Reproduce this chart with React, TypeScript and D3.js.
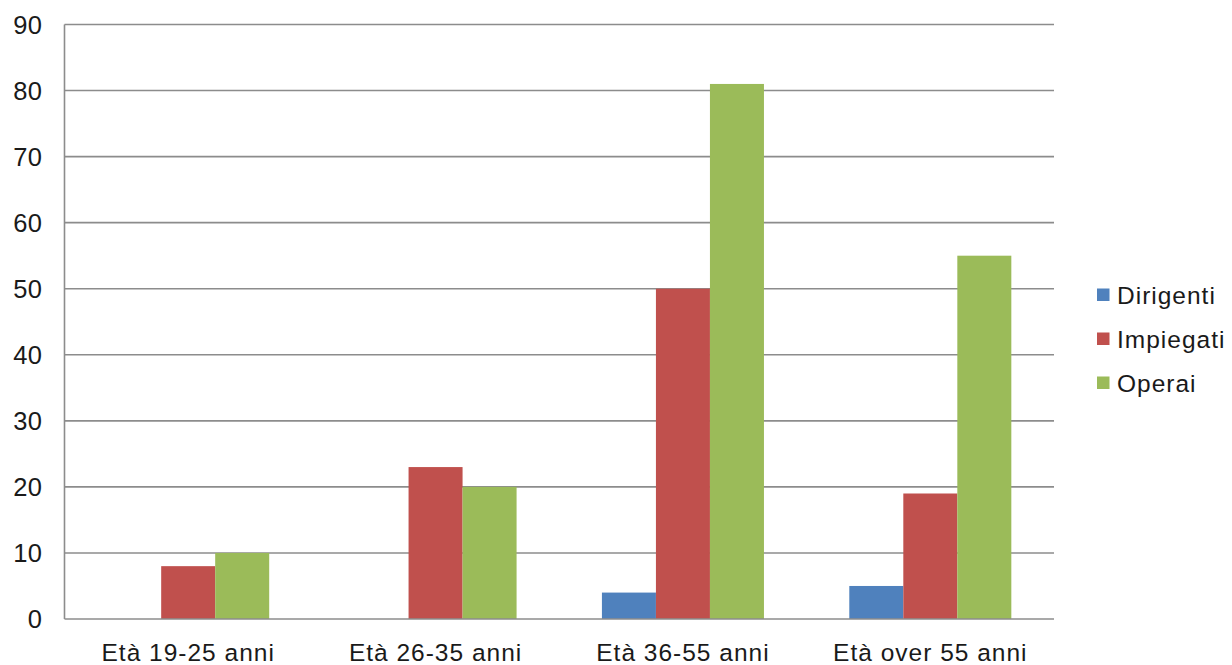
import React from "react";
import * as d3 from "d3";

const categories = ["Età 19-25 anni", "Età 26-35 anni", "Età 36-55 anni", "Età over 55 anni"];
const seriesNames = ["Dirigenti", "Impiegati", "Operai"];
const dirigenti = [0, 0, 4, 5];
const impiegati = [8, 23, 50, 19];
const operai = [10, 20, 81, 55];
const yTicks = [0, 10, 20, 30, 40, 50, 60, 70, 80, 90];
const colors = ["#4F81BD", "#C0504D", "#9BBB59"];

const W = 1232;
const H = 665;
const plot = { left: 64.5, right: 1054, top: 24.5, bottom: 619 };
const font = "'Liberation Sans', Arial, sans-serif";

export default function App() {
  const seriesValues = [dirigenti, impiegati, operai];
  const x0 = d3
    .scaleBand<string>()
    .domain(categories)
    .range([plot.left, plot.right])
    .paddingInner(0.345)
    .paddingOuter(0.1725);
  const x1 = d3.scaleBand<string>().domain(seriesNames).range([0, x0.bandwidth()]).padding(0);
  const y = d3.scaleLinear().domain([0, 90]).range([plot.bottom, plot.top]);

  return (
    <svg
      width={W}
      height={H}
      viewBox={`0 0 ${W} ${H}`}
      style={{ position: "absolute", left: 0, top: 0, background: "#fff" }}
    >
      {yTicks.map((t) => (
        <g key={t}>
          {t > 0 && (
            <line x1={plot.left} x2={plot.right} y1={y(t)} y2={y(t)} stroke="#8c8c8c" strokeWidth={1.6} />
          )}
          <text
            x={42.5}
            y={y(t)}
            textAnchor="end"
            dominantBaseline="central"
            fontFamily={font}
            fontSize={25.5}
            letterSpacing={0.5}
            fill="#1a1a1a"
          >
            {t}
          </text>
        </g>
      ))}
      {categories.map((c, ci) => (
        <g key={c} transform={`translate(${x0(c)},0)`}>
          {seriesNames.map((s, si) => {
            const v = seriesValues[si][ci];
            if (!v) return null;
            return (
              <rect
                key={s}
                x={x1(s)}
                y={y(v)}
                width={x1.bandwidth()}
                height={y(0) - y(v)}
                fill={colors[si]}
              />
            );
          })}
        </g>
      ))}
      <line x1={plot.left} x2={plot.left} y1={plot.top} y2={plot.bottom} stroke="#8c8c8c" strokeWidth={1.6} />
      <line x1={plot.left} x2={plot.right} y1={plot.bottom} y2={plot.bottom} stroke="#8c8c8c" strokeWidth={1.6} />
      {categories.map((c) => (
        <text
          key={c}
          x={(x0(c) as number) + x0.bandwidth() / 2}
          y={652}
          textAnchor="middle"
          dominantBaseline="central"
          fontFamily={font}
          fontSize={24.5}
          letterSpacing={1}
          fill="#1a1a1a"
        >
          {c}
        </text>
      ))}
      {seriesNames.map((s, si) => (
        <g key={s} transform={`translate(1097,${295 + si * 44})`}>
          <rect x={0} y={-6.5} width={12.5} height={12.5} fill={colors[si]} />
          <text
            x={20}
            y={0}
            dominantBaseline="central"
            fontFamily={font}
            fontSize={24.5}
            letterSpacing={1}
            fill="#1a1a1a"
          >
            {s}
          </text>
        </g>
      ))}
    </svg>
  );
}
